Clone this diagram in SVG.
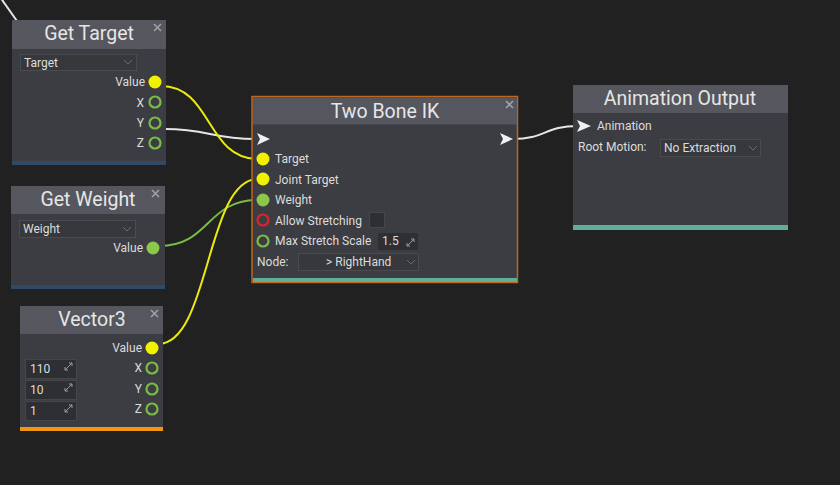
<svg xmlns="http://www.w3.org/2000/svg" width="840" height="485" viewBox="0 0 840 485">
<defs>
<style>
.bg{fill:#212121}
.hdr{fill:#55565e}
.body{fill:#3c3d42}
.title{font-family:Roboto,"Liberation Sans",sans-serif;font-size:19.5px;fill:#e6e6e6;text-anchor:middle}
.lbl{font-family:Roboto,"Liberation Sans",sans-serif;font-size:12px;fill:#dcdcdc}
.r{text-anchor:end}
.close{stroke:#a0a0a6;stroke-width:1.6}
.dd{fill:#37383c;stroke:#4a4b50;stroke-width:1}
.ddarrow{fill:none;stroke:#6a6b70;stroke-width:1}
.box{fill:#2e2f33;stroke:#45464a;stroke-width:1}
.pinY{fill:#f2f200}
.pinG{fill:#8bc84a}
.ringG{fill:none;stroke:#7bbb45;stroke-width:2.2}
.ringR{fill:none;stroke:#e0202a;stroke-width:2.2}
.exec{fill:#f0f0f0}
.wire{fill:none;stroke-width:2}
.ico{fill:none;stroke:#9a9aa0;stroke-width:1}
</style>
</defs>
<rect class="bg" x="0" y="0" width="840" height="485"/>

<g id="connectors">
<path class="wire" stroke="#e6e6e6" d="M0,-3 L17,21"/>
<path class="wire" stroke="#e6e6e6" d="M164,129 C210,129 210,139 256,139"/>
<path class="wire" stroke="#eaea10" d="M161,86 C212,86 206,159 258,159"/>
<path class="wire" stroke="#7bbb45" d="M159,246 C210,246 206,200 258,200"/>
<path class="wire" stroke="#eaea10" d="M158,344 C210,344 206,179 258,179"/>
<path class="wire" stroke="#e6e6e6" d="M513,139 C545,139 545,126 578,126"/>
</g>

<g id="get-target">
<rect class="body" x="12" y="20" width="154" height="145"/>
<rect class="hdr" x="12" y="20" width="154" height="29"/>
<rect x="12" y="161" width="154" height="4" fill="#2f4a66"/>
<text class="title" x="89" y="40">Get Target</text>
<path class="close" d="M154,24 L161,31 M161,24 L154,31"/>
<rect class="dd" x="20.5" y="54.5" width="116" height="16"/>
<text class="lbl" x="24" y="67">Target</text>
<path class="ddarrow" d="M124,60 L128,64 L132,60"/>
<text class="lbl r" x="145" y="86">Value</text>
<circle class="pinY" cx="155" cy="82" r="6.5"/>
<text class="lbl r" x="144" y="107">X</text>
<circle class="ringG" cx="155" cy="102" r="5.5"/>
<text class="lbl r" x="144" y="127">Y</text>
<circle class="ringG" cx="155" cy="123" r="5.5"/>
<text class="lbl r" x="144" y="147">Z</text>
<circle class="ringG" cx="155" cy="143" r="5.5"/>
</g>

<g id="get-weight">
<rect class="body" x="11" y="186" width="154" height="103"/>
<rect class="hdr" x="11" y="186" width="154" height="28"/>
<rect x="11" y="285" width="154" height="4" fill="#2f4a66"/>
<text class="title" x="88" y="206">Get Weight</text>
<path class="close" d="M152,190 L159,197 M159,190 L152,197"/>
<rect class="dd" x="19.5" y="220.5" width="116" height="17"/>
<text class="lbl" x="23" y="233">Weight</text>
<path class="ddarrow" d="M123,227 L127,231 L131,227"/>
<text class="lbl r" x="143" y="252">Value</text>
<circle class="pinG" cx="153" cy="248" r="6.5"/>
</g>

<g id="vector3">
<rect class="body" x="20" y="306" width="143" height="125"/>
<rect class="hdr" x="20" y="306" width="143" height="28"/>
<rect x="20" y="427" width="143" height="4" fill="#f0960f"/>
<text class="title" x="92" y="326">Vector3</text>
<path class="close" d="M151,310 L158,317 M158,310 L151,317"/>
<text class="lbl r" x="142" y="352">Value</text>
<circle class="pinY" cx="152" cy="348" r="6.5"/>
<text class="lbl r" x="142" y="372">X</text>
<circle class="ringG" cx="152" cy="368" r="5.5"/>
<text class="lbl r" x="142" y="393">Y</text>
<circle class="ringG" cx="152" cy="389" r="5.5"/>
<text class="lbl r" x="142" y="413">Z</text>
<circle class="ringG" cx="152" cy="409" r="5.5"/>
<rect class="box" x="25.5" y="359.5" width="51" height="19"/>
<text class="lbl" x="30" y="373">110</text>
<path class="ico" d="M65,370 L72,363 M69,363 L72,363 L72,366 M65,370 L68,370 M65,370 L65,367"/>
<rect class="box" x="25.5" y="380.5" width="51" height="19"/>
<text class="lbl" x="30" y="394">10</text>
<path class="ico" d="M65,391 L72,384 M69,384 L72,384 L72,387 M65,391 L68,391 M65,391 L65,388"/>
<rect class="box" x="25.5" y="401.5" width="51" height="19"/>
<text class="lbl" x="30" y="415">1</text>
<path class="ico" d="M65,412 L72,405 M69,405 L72,405 L72,408 M65,412 L68,412 M65,412 L65,409"/>
</g>

<g id="two-bone-ik">
<rect class="body" x="252" y="96.5" width="265.5" height="186" stroke="#c0661e" stroke-width="1.5"/>
<rect class="hdr" x="253" y="97.5" width="264" height="27"/>
<rect x="253" y="278" width="264" height="4" fill="#5fae99"/>
<text class="title" x="385" y="118">Two Bone IK</text>
<path class="close" d="M506,101 L513,108 M513,101 L506,108"/>
<path class="exec" d="M257,133 L270,139 L257,145 L260,139 Z"/>
<path class="exec" d="M500,133 L513,139 L500,145 L503,139 Z"/>
<circle class="pinY" cx="263" cy="159" r="6.5"/>
<text class="lbl" x="275" y="163">Target</text>
<circle class="pinY" cx="263" cy="179" r="6.5"/>
<text class="lbl" x="275" y="184">Joint Target</text>
<circle class="pinG" cx="263" cy="200" r="6.5"/>
<text class="lbl" x="275" y="204">Weight</text>
<circle class="ringR" cx="263" cy="220" r="5.5"/>
<text class="lbl" x="275" y="225">Allow Stretching</text>
<rect class="box" x="369.5" y="212.5" width="15" height="15" fill="#3a3b40"/>
<circle class="ringG" cx="263" cy="241" r="5.5"/>
<text class="lbl" x="275" y="245">Max Stretch Scale</text>
<rect x="378" y="233" width="40" height="17" fill="#2e2f33"/>
<text class="lbl" x="382" y="245">1.5</text>
<path class="ico" d="M407,246 L414,239 M411,239 L414,239 L414,242 M407,246 L410,246 M407,246 L407,243"/>
<text class="lbl" x="257" y="266">Node:</text>
<rect class="dd" x="298.5" y="253.5" width="120" height="17"/>
<text class="lbl" x="326" y="266">&gt; RightHand</text>
<path class="ddarrow" d="M407,260 L411,264 L415,260"/>
</g>

<g id="animation-output">
<rect class="body" x="573" y="85" width="215" height="145"/>
<rect class="hdr" x="573" y="85" width="215" height="28"/>
<rect x="573" y="225" width="215" height="5" fill="#5fae99"/>
<text class="title" x="680" y="105">Animation Output</text>
<path class="exec" d="M577,120 L591,126 L577,132 L580,126 Z"/>
<text class="lbl" x="597" y="130">Animation</text>
<text class="lbl" x="578" y="151">Root Motion:</text>
<rect class="dd" x="660.5" y="139.5" width="100" height="17"/>
<text class="lbl" x="664" y="152">No Extraction</text>
<path class="ddarrow" d="M749,146 L753,150 L757,146"/>
</g>
</svg>
